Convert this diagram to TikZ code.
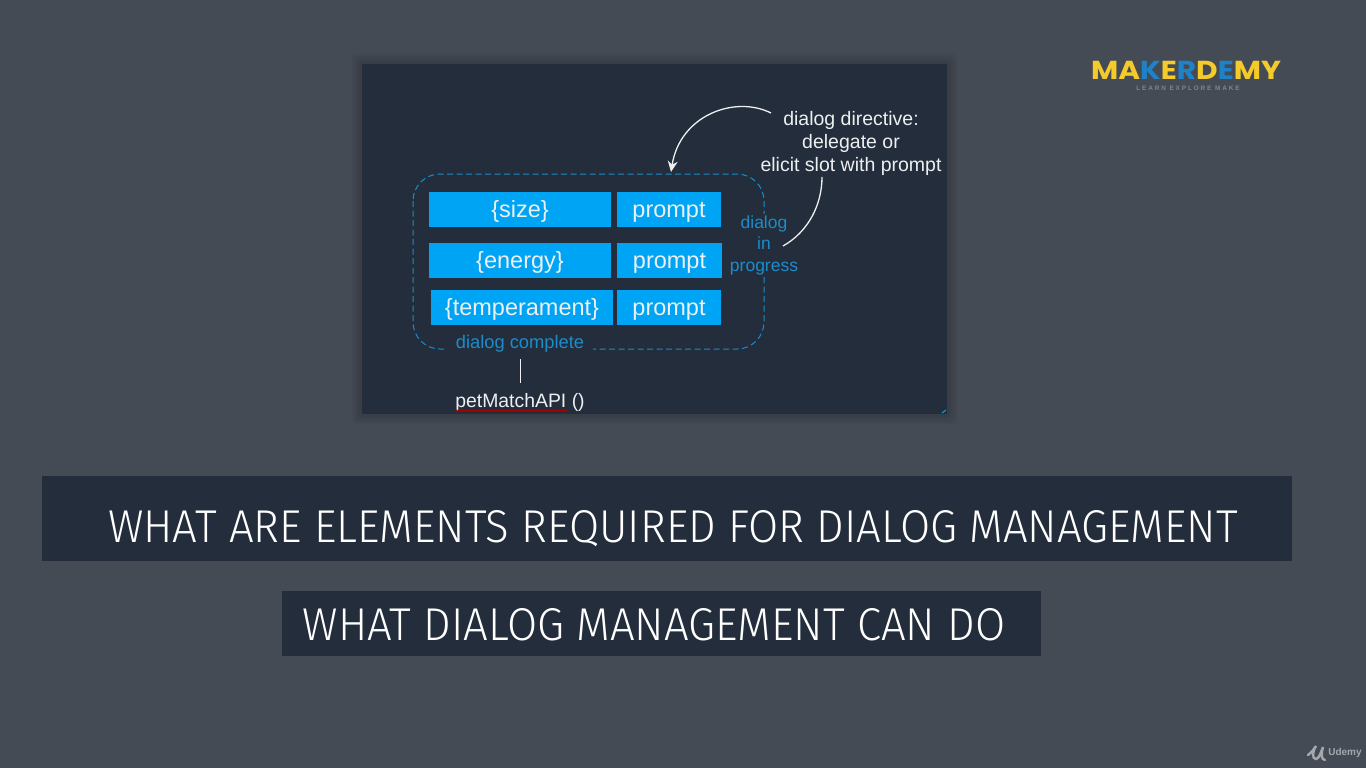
\documentclass[tikz,border=0pt]{standalone}
\usepackage{fontspec}
\setmainfont{Liberation Sans}
\newfontfamily\titlefont[FakeStretch=0.95]{Fira Sans Light}
\newfontfamily\logofont[FakeStretch=1.14]{Poppins}
\usetikzlibrary{arrows.meta, decorations.pathmorphing}
\definecolor{slide}{HTML}{454B54}
\definecolor{panel}{HTML}{232D3B}
\definecolor{slotblue}{HTML}{00A4F5}
\definecolor{dialogblue}{HTML}{1B8DCB}
\definecolor{logoyellow}{HTML}{F4CB2B}
\definecolor{logoblue}{HTML}{1F82C8}
\definecolor{logogray}{HTML}{7F858C}
\definecolor{udemygray}{HTML}{A4A8AD}
\definecolor{softwhite}{HTML}{EDEFF0}
\begin{document}
\begin{tikzpicture}[x=1pt, y=-1pt]
        \tikzstyle{slot} = [fill=slotblue, text=softwhite, minimum height=35pt, inner sep=0pt, text height=18pt, text depth=3pt, font=\fontsize{23.5}{26}\selectfont]
        \tikzstyle{note} = [text=softwhite, align=center, inner sep=0pt, font=\fontsize{19.5}{23}\selectfont]
        \tikzstyle{state} = [text=dialogblue, fill=panel, align=center, inner sep=1pt, font=\fontsize{17.5}{21.5}\selectfont]
        \tikzstyle{banner} = [fill=panel, text=white, inner sep=0pt, font=\titlefont\fontsize{46}{50}\selectfont]
        \useasboundingbox (0, 0) rectangle (1366, 768);
        \fill[slide] (0, 0) rectangle (1366, 768);
        % soft edge of the panel
        \foreach \g in {10, 8, 6, 4, 2} {
          \fill[black, opacity=0.03, rounded corners=3pt] (362-\g, 64-\g) rectangle (947+\g, 414+\g);
        }
        \fill[panel] (362, 64) rectangle (947, 414);
        \draw[slotblue, line width=1pt] (942, 413) -- (946, 410);

        \node[slot, minimum width=182pt] (size) at (520, 209.5) {\{size\}};
        \node[slot, minimum width=182pt] (energy) at (520, 260.5) {\{energy\}};
        \node[slot, minimum width=182pt] (temperament) at (522, 307.5) {\{temperament\}};
        \node[slot, minimum width=104pt] (prompta) at (669, 209.5) {prompt};
        \node[slot, minimum width=105pt] (promptb) at (669.5, 260.5) {prompt};
        \node[slot, minimum width=104pt] (promptc) at (669, 307.5) {prompt};

        \draw[dialogblue, line width=1pt, dashed, dash pattern=on 6pt off 3.5pt, rounded corners=27pt] (413, 174) rectangle (764, 349);
        \coordinate (slotstop) at (671, 172);

        \node[state] (progress) at (764, 245) {dialog\\in\\progress};
        \node[state, inner xsep=9pt, font=\fontsize{18.3}{22}\selectfont] (complete) at (520, 344) {dialog complete};

        \node[note] (directive) at (851, 143) {dialog directive:\\delegate or\\elicit slot with prompt};
        \node[text=softwhite, inner sep=0pt, font=\fontsize{19.4}{22}\selectfont] (petmatch) at (520, 402.5) {petMatchAPI ()};
        \draw[red!70!black, line width=0.8pt, decorate, decoration={zigzag, segment length=2.4pt, amplitude=0.6pt}] (456, 410.5) -- (567, 410.5);

        \coordinate (arca) at (771, 113);
        \coordinate (arcb) at (822, 177);
        \coordinate (arcc) at (783, 246);
        \coordinate (linea) at (520, 359);
        \coordinate (lineb) at (520, 383);
        \draw[-{Stealth[length=11pt, width=10pt]}, softwhite, line width=1.3pt] (arca) .. controls (735, 95) and (680, 115) .. (slotstop);
        \draw[softwhite, line width=1.3pt] (arcb) .. controls (822, 205) and (808, 232) .. (arcc);
        \draw[softwhite, line width=1pt] (linea) -- (lineb);

        \node[banner, minimum width=1250pt, minimum height=85pt, text height=48pt, text depth=0pt] (elements) at (667, 518.5) {\hspace*{12pt}WHAT ARE ELEMENTS REQUIRED FOR DIALOG MANAGEMENT};
        \node[banner, minimum width=759pt, minimum height=65pt, text height=33pt, text depth=0pt] (cando) at (661.5, 623.5) {WHAT DIALOG MANAGEMENT CAN DO\hspace*{15pt}};

        \node[inner sep=0pt, font=\logofont\bfseries\fontsize{26}{28}\selectfont] (maker) at (1186, 70) {\textcolor{logoyellow}{MA}\textcolor{logoblue}{K}\textcolor{logoyellow}{E}\textcolor{logoblue}{R}\textcolor{logoyellow}{D}\textcolor{logoblue}{E}\textcolor{logoyellow}{MY}};
        \node[inner sep=0pt, text=logogray, font=\bfseries\fontsize{6.5}{8}\selectfont] (learn) at (1188, 88) {L E A R N\ \ E X P L O R E\ \ M A K E};

        \draw[udemygray, line width=2.4pt, line cap=round] (1308, 755) .. controls (1312, 752) and (1314, 749) .. (1316, 746) .. controls (1312, 752) and (1312, 759) .. (1316, 759) .. controls (1319, 759) and (1321, 752) .. (1323, 747) .. controls (1321, 753) and (1321, 760) .. (1325, 760);
        \node[inner sep=0pt, text=udemygray, font=\bfseries\fontsize{10}{12}\selectfont] (udemy) at (1345, 753) {Udemy};
      \end{tikzpicture}
\end{document}
